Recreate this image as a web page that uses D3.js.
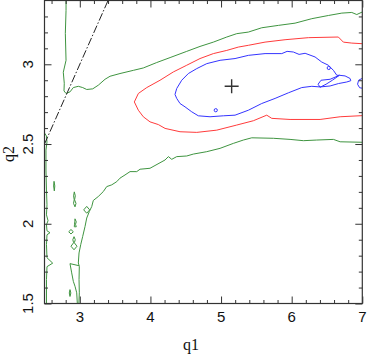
<!DOCTYPE html>
<html>
<head>
<meta charset="utf-8">
<script src="https://cdn.jsdelivr.net/npm/d3@7"></script>
<style>
  body { margin: 0; background: #fff; }
  svg { display: block; }
</style>
</head>
<body>
<div id="chart"></div>
<script>
// ---- data (q1, q2) ----
const xTicks = [3, 4, 5, 6, 7];
const yTicks = [1.5, 2, 2.5, 3];
const bestFit = [5.15, 2.862];
const diagonal = [[2.5, 2.5], [3.4, 3.4]];

// outer (green) contour, upper branch
const greenTop = [
  [2.805, 3.4], [2.805, 3.338], [2.795, 3.194], [2.805, 3.025], [2.766, 2.95], [2.780, 2.881],
  [2.776, 2.833], [2.805, 2.817], [2.861, 2.827], [2.908, 2.854], [2.979, 2.862], [3.041, 2.854],
  [3.098, 2.842], [3.183, 2.846], [3.262, 2.869], [3.357, 2.906], [3.428, 2.925], [3.569, 2.942],
  [3.758, 2.962], [3.899, 2.977], [4.089, 3.011], [4.278, 3.042], [4.514, 3.081], [4.702, 3.112],
  [4.891, 3.139], [5.081, 3.171], [5.222, 3.192], [5.387, 3.202], [5.576, 3.229], [5.812, 3.244],
  [6.048, 3.258], [6.285, 3.286], [6.520, 3.306], [6.710, 3.321], [6.851, 3.325], [6.922, 3.312],
  [7.0, 3.328]
];

// outer (green) contour, lower branch
const greenBottom = [
  [7.0, 2.511], [6.686, 2.514], [6.591, 2.529], [6.355, 2.525], [6.166, 2.521], [5.977, 2.529],
  [5.741, 2.536], [5.435, 2.539], [5.316, 2.525], [5.174, 2.504], [4.986, 2.473], [4.797, 2.452],
  [4.608, 2.437], [4.514, 2.425], [4.372, 2.421], [4.302, 2.404], [4.254, 2.421], [4.207, 2.4],
  [3.994, 2.348], [3.853, 2.342], [3.806, 2.327], [3.711, 2.327], [3.640, 2.306], [3.569, 2.286],
  [3.523, 2.264], [3.452, 2.244], [3.381, 2.233], [3.333, 2.202], [3.262, 2.171], [3.191, 2.146],
  [3.169, 2.108], [3.135, 2.077], [3.098, 2.036], [3.074, 1.983], [3.041, 1.921], [3.013, 1.869],
  [2.989, 1.817], [2.979, 1.754], [2.993, 1.733], [2.989, 1.65], [2.993, 1.567], [2.987, 1.5]
];
const greenBranch = [
  [2.989, 1.737], [2.861, 1.75], [2.885, 1.692], [2.908, 1.639], [2.932, 1.608], [2.956, 1.567],
  [2.965, 1.5]
];
const greenEdge = [
  [2.5, 2.569], [2.528, 2.55], [2.535, 2.512], [2.521, 2.462], [2.521, 2.337], [2.528, 2.212],
  [2.535, 2.119], [2.528, 2.056], [2.550, 2.019], [2.528, 1.994], [2.535, 1.956], [2.578, 1.944],
  [2.535, 1.931], [2.528, 1.869], [2.535, 1.787], [2.616, 1.753], [2.535, 1.731], [2.528, 1.65],
  [2.528, 1.5]
];
const greenIslands = [
  [[2.922, 2.2], [2.936, 2.175], [2.926, 2.15], [2.946, 2.128], [2.932, 2.106], [2.911, 2.128], [2.921, 2.15], [2.912, 2.175]],
  [[3.098, 2.109], [3.140, 2.087], [3.098, 2.066], [3.055, 2.087]],
  [[2.932, 2.031], [2.950, 2.012], [2.939, 1.997], [2.950, 1.981], [2.922, 1.981], [2.925, 1.997], [2.929, 2.012]],
  [[2.875, 1.964], [2.908, 1.95], [2.875, 1.936], [2.843, 1.95]],
  [[2.918, 1.919], [2.936, 1.9], [2.922, 1.881], [2.960, 1.859], [2.918, 1.837], [2.875, 1.859], [2.912, 1.881], [2.901, 1.9]],
  [[2.635, 2.266], [2.646, 2.237], [2.639, 2.206], [2.629, 2.237]],
  [[2.861, 1.587], [2.873, 1.566], [2.861, 1.544], [2.851, 1.566]]
];

// middle (red) contour
const redLevel = [
  [7.0, 3.129], [6.851, 3.133], [6.732, 3.139], [6.661, 3.171], [6.236, 3.167], [5.906, 3.154],
  [5.623, 3.139], [5.387, 3.119], [5.245, 3.108], [5.081, 3.087], [4.891, 3.067], [4.702, 3.036],
  [4.514, 2.994], [4.324, 2.952], [4.136, 2.9], [3.948, 2.854], [3.829, 2.817], [3.772, 2.764],
  [3.829, 2.712], [3.899, 2.671], [3.994, 2.639], [4.112, 2.622], [4.207, 2.598], [4.419, 2.577],
  [4.656, 2.573], [4.939, 2.587], [5.222, 2.619], [5.457, 2.646], [5.647, 2.681], [5.718, 2.661],
  [5.977, 2.654], [6.402, 2.654], [6.686, 2.671], [7.0, 2.678]
];

// inner (blue) contour
const blueLevel = [
  [4.348, 2.811], [4.372, 2.848], [4.443, 2.9], [4.537, 2.942], [4.656, 2.973], [4.797, 3.004],
  [4.986, 3.025], [5.198, 3.036], [5.387, 3.056], [5.623, 3.067], [5.860, 3.067], [5.935, 3.081],
  [6.024, 3.077], [6.105, 3.062], [6.190, 3.069], [6.331, 3.046], [6.426, 3.014], [6.520, 2.994],
  [6.591, 2.962], [6.639, 2.931], [6.676, 2.931], [6.756, 2.927], [6.827, 2.911], [6.837, 2.897],
  [6.780, 2.889], [6.661, 2.879], [6.544, 2.864], [6.402, 2.858], [6.285, 2.862], [6.143, 2.854],
  [5.953, 2.821], [5.765, 2.786], [5.576, 2.754], [5.387, 2.712], [5.198, 2.681], [5.033, 2.677],
  [4.844, 2.671], [4.678, 2.677], [4.585, 2.702], [4.490, 2.733], [4.419, 2.754], [4.372, 2.786]
];
const blueInner = [
  [6.676, 2.931], [6.544, 2.906], [6.416, 2.9], [6.374, 2.875], [6.402, 2.856], [6.487, 2.875], [6.576, 2.9]
];
const blueEdge = [[7.0, 2.912], [6.948, 2.9], [6.933, 2.875], [6.962, 2.853], [7.0, 2.85]];
const blueDots = [[6.525, 2.977], [4.925, 2.712]];

// ---- layout ----
const W = 374, H = 356;
const plot = { left: 44.5, right: 362.3, top: 0.5, bottom: 303.5 };

const svg = d3.select('#chart').append('svg')
  .attr('width', W).attr('height', H);

const x = d3.scaleLinear().domain([2.5, 7]).range([plot.left, plot.right]);
const y = d3.scaleLinear().domain([1.5, 3.4]).range([plot.bottom, plot.top]);

svg.append('clipPath').attr('id', 'clip')
  .append('rect')
  .attr('x', plot.left).attr('y', plot.top)
  .attr('width', plot.right - plot.left).attr('height', plot.bottom - plot.top);

const g = svg.append('g').attr('clip-path', 'url(#clip)');

const line = d3.line().x(d => x(d[0])).y(d => y(d[1]));
const loop = d3.line().x(d => x(d[0])).y(d => y(d[1])).curve(d3.curveLinearClosed);

const GREEN = '#3f9440', RED = '#ff3b3b', BLUE = '#3434ff';

[greenTop, greenBottom, greenBranch, greenEdge].forEach(p => {
  g.append('path').attr('d', line(p))
    .attr('fill', 'none').attr('stroke', GREEN).attr('stroke-width', 1);
});
greenIslands.forEach(p => {
  g.append('path').attr('d', loop(p))
    .attr('fill', 'none').attr('stroke', GREEN).attr('stroke-width', 1);
});

g.append('path').attr('d', line(redLevel))
  .attr('fill', 'none').attr('stroke', RED).attr('stroke-width', 1);

g.append('path').attr('d', loop(blueLevel))
  .attr('fill', 'none').attr('stroke', BLUE).attr('stroke-width', 1);
g.append('path').attr('d', loop(blueInner))
  .attr('fill', 'none').attr('stroke', BLUE).attr('stroke-width', 1);
g.append('path').attr('d', line(blueEdge))
  .attr('fill', 'none').attr('stroke', BLUE).attr('stroke-width', 1);
blueDots.forEach(d => {
  g.append('circle')
    .attr('cx', x(d[0])).attr('cy', y(d[1])).attr('r', 1.6)
    .attr('fill', 'none').attr('stroke', BLUE).attr('stroke-width', 1);
});

// q2 = q1 boundary (dash-dot)
g.append('path').attr('d', line(diagonal))
  .attr('fill', 'none').attr('stroke', '#222').attr('stroke-width', 1)
  .attr('stroke-dasharray', '8,2,1.5,2');

// best-fit marker
const bx = x(bestFit[0]), by = y(bestFit[1]);
g.append('path')
  .attr('d', `M${bx - 7},${by}H${bx + 7}M${bx},${by - 7}V${by + 7}`)
  .attr('stroke', '#333').attr('stroke-width', 1.4);

// ---- axes: inward ticks on all four sides ----
const xMinor = d3.range(2.6, 7, 0.2).filter(v => !xTicks.some(t => Math.abs(t - v) < 1e-6));
const yMinor = d3.range(1.6, 3.4, 0.1).filter(v => !yTicks.some(t => Math.abs(t - v) < 1e-6));

function addAxis(axisFn, scale, transform, values, size) {
  const a = svg.append('g')
    .attr('transform', transform)
    .call(axisFn(scale).tickValues(values).tickSize(-size).tickSizeOuter(0).tickFormat(''));
  a.select('.domain').remove();
  a.selectAll('line').attr('stroke', '#333');
  return a;
}

addAxis(d3.axisBottom, x, `translate(0,${plot.bottom})`, xTicks, 7);
addAxis(d3.axisBottom, x, `translate(0,${plot.bottom})`, xMinor, 3.5);
addAxis(d3.axisTop, x, `translate(0,${plot.top})`, xTicks, 7);
addAxis(d3.axisTop, x, `translate(0,${plot.top})`, xMinor, 3.5);
addAxis(d3.axisLeft, y, `translate(${plot.left},0)`, yTicks, 7);
addAxis(d3.axisLeft, y, `translate(${plot.left},0)`, yMinor, 3.5);
addAxis(d3.axisRight, y, `translate(${plot.right},0)`, yTicks, 7);
addAxis(d3.axisRight, y, `translate(${plot.right},0)`, yMinor, 3.5);

// frame
svg.append('rect')
  .attr('x', plot.left).attr('y', plot.top)
  .attr('width', plot.right - plot.left).attr('height', plot.bottom - plot.top)
  .attr('fill', 'none').attr('stroke', '#333').attr('stroke-width', 1.2);

// tick labels
svg.selectAll('.xlab').data(xTicks).join('text')
  .attr('class', 'xlab')
  .attr('x', d => x(d)).attr('y', 322)
  .attr('text-anchor', 'middle')
  .attr('font-family', 'Liberation Sans, Arial, sans-serif').attr('font-size', '15px')
  .attr('fill', '#111')
  .text(d => d);

svg.selectAll('.ylab').data(yTicks).join('text')
  .attr('class', 'ylab')
  .attr('transform', d => `translate(33,${y(d)}) rotate(-90)`)
  .attr('text-anchor', 'middle')
  .attr('font-family', 'Liberation Sans, Arial, sans-serif').attr('font-size', '15px')
  .attr('fill', '#111')
  .text(d => d);

// axis titles
svg.append('text')
  .attr('x', 191).attr('y', 350)
  .attr('text-anchor', 'middle')
  .attr('font-family', 'Liberation Serif, Times New Roman, serif').attr('font-size', '16px')
  .attr('fill', '#111')
  .text('q1');

svg.append('text')
  .attr('transform', 'translate(14,154) rotate(-90)')
  .attr('text-anchor', 'middle')
  .attr('font-family', 'Liberation Serif, Times New Roman, serif').attr('font-size', '16px')
  .attr('fill', '#111')
  .text('q2');
</script>
</body>
</html>
